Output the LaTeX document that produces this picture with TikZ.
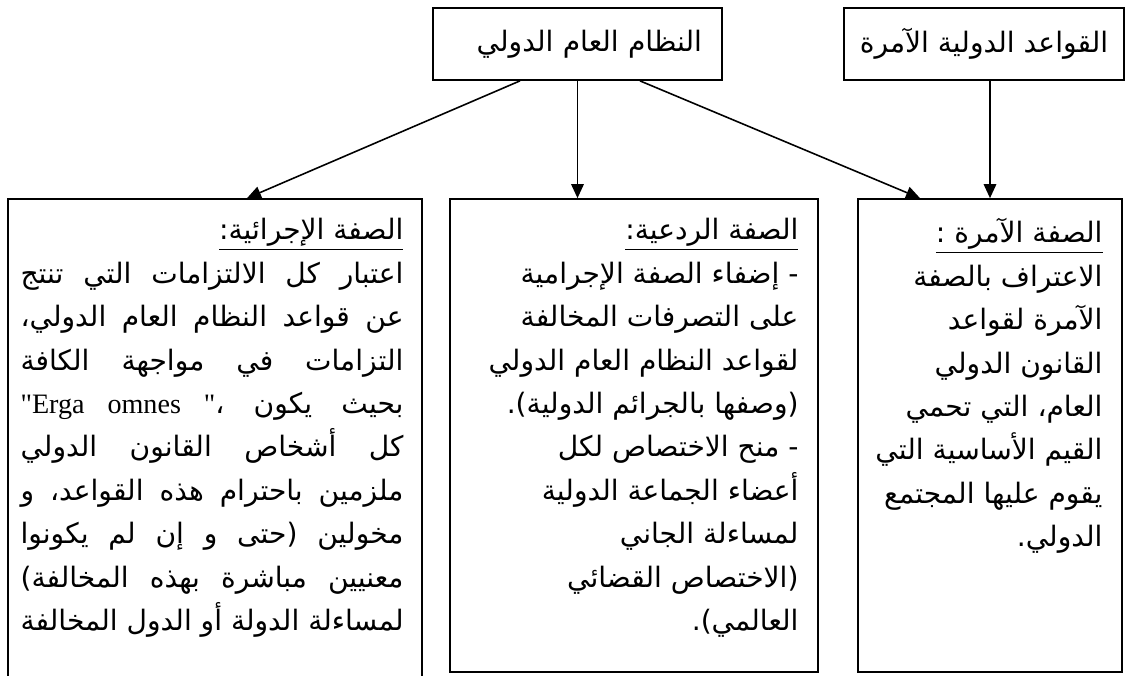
\documentclass[tikz,border=0pt]{standalone}
\usepackage{fontspec}
\usetikzlibrary{arrows.meta,calc,positioning}
\newfontfamily\arabicfont[Script=Arabic]{DejaVu Sans}
\newfontfamily\latinfont{Liberation Serif}
\TeXXeTstate=1
\newcommand{\ar}[1]{\beginR #1\endR}
\newcommand{\arj}[1]{\hbox to 7.66cm{\beginR #1\endR}}

\begin{document}
\begin{tikzpicture}[x=0.02cm,y=-0.02cm,>={Triangle[length=2.8mm,width=2.5mm]},
  box/.style={draw,line width=1pt,inner sep=0pt},
  txt/.style={font=\arabicfont\fontsize{16}{24.7}\selectfont,align=right,inner sep=0pt,anchor=north east},
  link/.style={->,line width=0.9pt}]
\useasboundingbox (0,0) rectangle (1126,676);
\clip (0,0) rectangle (1126,676);
% top row
\node[box,minimum width=5.78cm,minimum height=1.44cm,text width=4.98cm,align=right,
  font=\arabicfont\fontsize{16}{20}\selectfont] (nizam) at (577.5,44) {\ar{النظام العام الدولي}};
\node[box,minimum width=5.6cm,minimum height=1.44cm,
  font=\arabicfont\fontsize{16}{20}\selectfont] (qawaid) at (984,44) {\ar{القواعد الدولية الآمرة}};
% lower boxes
\node[box,minimum width=8.28cm,minimum height=10.42cm] (ijra) at (215,459.5) {};
\node[box,minimum width=7.36cm,minimum height=9.46cm] (rad) at (634,435.5) {};
\node[box,minimum width=5.28cm,minimum height=9.46cm] (amira) at (990,435.5) {};
\node[txt] (ijraTxt) at ($(ijra.north east)+(-19,20)$) {%
  \underline{\ar{الصفة الإجرائية:}}\\
  \arj{اعتبار كل الالتزامات التي تنتج}\\
  \arj{عن قواعد النظام العام الدولي،}\\
  \arj{التزامات في مواجهة الكافة}\\
  \hbox to 7.66cm{{\latinfont"Erga omnes "}، \ar{بحيث يكون}}\\
  \arj{كل أشخاص القانون الدولي}\\
  \arj{ملزمين باحترام هذه القواعد، و}\\
  \arj{مخولين (حتى و إن لم يكونوا}\\
  \arj{معنيين مباشرة بهذه المخالفة)}\\
  \arj{لمساءلة الدولة أو الدول المخالفة}};
\node[txt] (radTxt) at ($(rad.north east)+(-20,20)$) {%
  \underline{\ar{الصفة الردعية:}}\\
  \ar{- إضفاء الصفة الإجرامية}\\
  \ar{على التصرفات المخالفة}\\
  \ar{لقواعد النظام العام الدولي}\\
  \ar{(وصفها بالجرائم الدولية).}\\
  \ar{- منح الاختصاص لكل}\\
  \ar{أعضاء الجماعة الدولية}\\
  \ar{لمساءلة الجاني}\\
  \ar{(الاختصاص القضائي}\\
  \ar{العالمي).}};
\node[txt] (amiraTxt) at ($(amira.north east)+(-20,20)$) {%
  \underline{\ar{الصفة الآمرة :}}\\
  \ar{الاعتراف بالصفة}\\
  \ar{الآمرة لقواعد}\\
  \ar{القانون الدولي}\\
  \ar{العام، التي تحمي}\\
  \ar{القيم الأساسية التي}\\
  \ar{يقوم عليها المجتمع}\\
  \ar{الدولي.}};
% connectors
\draw[link] ($(nizam.south)+(-57.5,0)$) -- ($(ijra.north)+(32,0)$);
\draw[link] (nizam.south) -- (nizam.south |- rad.north);
\draw[link] ($(nizam.south)+(62.5,0)$) -- ($(amira.north)+(-70,0)$);
\draw[link] (qawaid.south -| amira.north) -- (amira.north);
\end{tikzpicture}
\end{document}
